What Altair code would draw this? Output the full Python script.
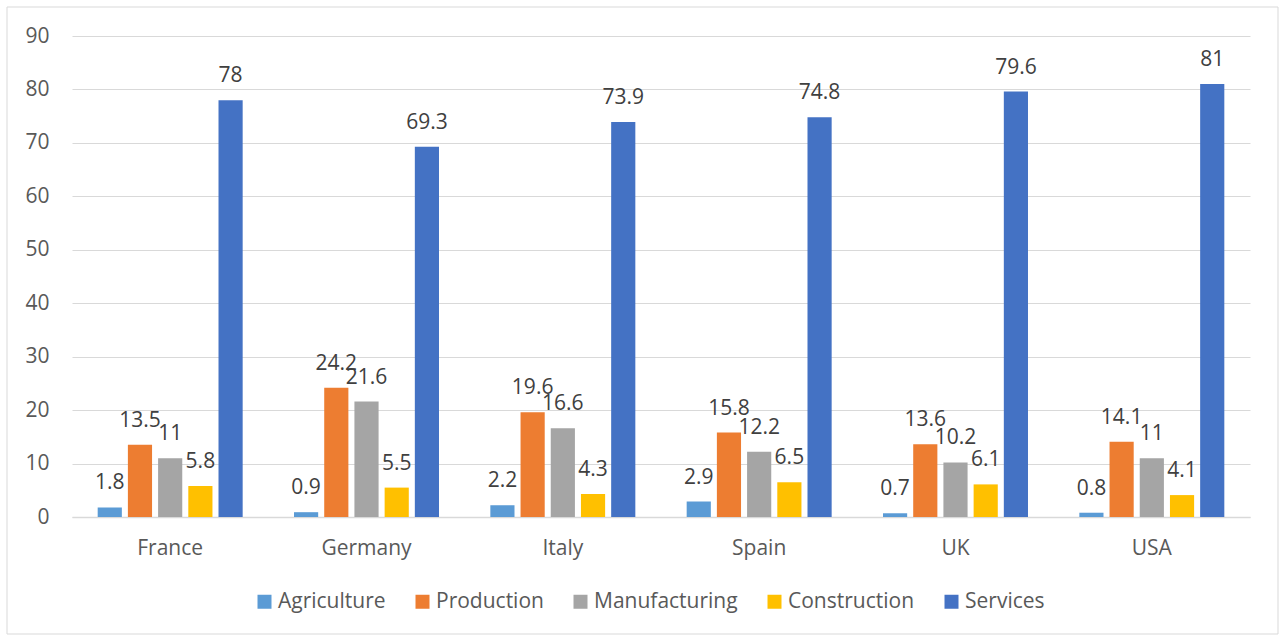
import altair as alt
import pandas as pd

countries = ["France", "Germany", "Italy", "Spain", "UK", "USA"]
series = ["Agriculture", "Production", "Manufacturing", "Construction", "Services"]
agriculture = [1.8, 0.9, 2.2, 2.9, 0.7, 0.8]
production = [13.5, 24.2, 19.6, 15.8, 13.6, 14.1]
manufacturing = [11, 21.6, 16.6, 12.2, 10.2, 11]
construction = [5.8, 5.5, 4.3, 6.5, 6.1, 4.1]
services = [78, 69.3, 73.9, 74.8, 79.6, 81]
colors = ["#5B9BD5", "#ED7D31", "#A5A5A5", "#FFC000", "#4472C4"]
y_ticks = [0, 10, 20, 30, 40, 50, 60, 70, 80, 90]

rows = []
for name, vals in zip(series, [agriculture, production, manufacturing, construction, services]):
    for c, v in zip(countries, vals):
        rows.append({"country": c, "series": name, "value": v})
df = pd.DataFrame(rows)

FONT = "Open Sans"
W, H = 1178, 481

base = alt.Chart(df).encode(
    x=alt.X("country:N", sort=countries, title=None,
            scale=alt.Scale(paddingInner=0.2615, paddingOuter=0.1308),
            axis=alt.Axis(labelAngle=0, ticks=False, domain=True, domainColor="#d9d9d9",
                          domainWidth=1.5, labelPadding=20, labelFontSize=21,
                          labelColor="#595959", labelFont=FONT, grid=False)),
    xOffset=alt.XOffset("series:N", sort=series,
                        scale=alt.Scale(paddingInner=0.2, paddingOuter=0)),
    y=alt.Y("value:Q", title=None,
            scale=alt.Scale(domain=[0, 90], nice=False),
            axis=alt.Axis(values=y_ticks, ticks=False, domain=False, gridColor="#d9d9d9",
                          gridWidth=1, labelPadding=23, labelFontSize=21,
                          labelColor="#595959", labelFont=FONT)),
)

bars = base.mark_bar().encode(
    color=alt.Color("series:N", sort=series,
                    scale=alt.Scale(domain=series, range=colors),
                    legend=alt.Legend(title=None, orient="none", direction="horizontal",
                                      columns=5, legendX=182, legendY=555,
                                      symbolType="square", symbolSize=196,
                                      symbolStrokeWidth=0, labelOffset=3,
                                      columnPadding=26, labelFontSize=21,
                                      labelFont=FONT, labelColor="#595959",
                                      labelLimit=300))
)

labels = base.mark_text(baseline="alphabetic", dy=-18, fontSize=21, font=FONT,
                        color="#404040").encode(text=alt.Text("value:Q"))

frame = alt.Chart(alt.Data(values=[{"a": 1}])).mark_rect(
    fill=None, stroke="#d9d9d9", strokeWidth=1
).encode(x=alt.value(-65), x2=alt.value(1206), y=alt.value(-29), y2=alt.value(598))

chart = alt.layer(frame, bars, labels).properties(
    width=W, height=H,
    autosize=alt.AutoSizeParams(type="none"),
    padding={"left": 72, "top": 36, "right": 29, "bottom": 118},
    background="white",
).configure_view(stroke=None)

chart.save("out.html", embed_options={"renderer": "svg", "actions": False})
